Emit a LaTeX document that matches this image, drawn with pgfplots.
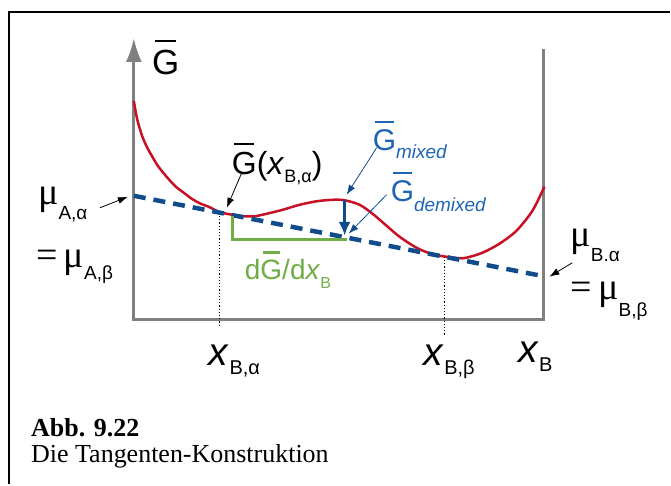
\documentclass[border=0pt]{standalone}
\usepackage{pgfplots}
\pgfplotsset{compat=1.18}
\usetikzlibrary{arrows.meta}
\usepackage{fontspec}
\setmainfont{Liberation Sans}
\newfontfamily\tms{Liberation Serif}
\definecolor{cred}{RGB}{200,16,36}
\definecolor{cdblue}{RGB}{16,76,140}
\definecolor{clblue}{RGB}{30,100,180}
\definecolor{cgreen}{RGB}{112,173,71}
\definecolor{cgray}{RGB}{128,128,128}
\newcommand\fs[1]{\fontsize{#1}{#1}\selectfont}
\newcommand\Gb{\leavevmode\hbox{\ooalign{G\cr\hidewidth\raisebox{0.93em}{\rule{0.62em}{0.08em}}\hidewidth\cr}}}
\begin{document}
\begin{tikzpicture}
\begin{axis}[width=671pt, height=485pt, scale only axis,
  xmin=0, xmax=671, ymin=0, ymax=485, hide axis, clip=false]
\path (axis cs:0,0) rectangle (axis cs:671,485);
% frame
\draw[line width=1.5pt, black] (axis cs:9,0) -- (axis cs:9,473) -- (axis cs:671,473);
% axes
\draw[cgray, line width=3pt, {Latex[length=24pt,width=16pt]}-] (axis cs:134,447) -- (axis cs:134,165) -- (axis cs:544,165) -- (axis cs:544,436);
% dotted guides
\addplot[black, line width=1.2pt, dotted] coordinates {(220,272) (220,157)};
\addplot[black, line width=1.2pt, dotted] coordinates {(445,228) (445,150)};
% curve
\addplot[cred, line width=2.5pt, smooth, tension=0.5] coordinates {
(134,384) (135.5,375) (137.5,365) (140,356) (143,347) (147,338) (152,329)
(158,319) (166,309) (175,299) (184,292) (192,286) (200,281.5) (210,277.5)
(220,272.5) (233,270) (245,268.5) (255,268.5) (267,271) (283,275) (300,280)
(317,283.5) (333,285) (345,284.5) (360,280) (373,271) (387,259) (400,248)
(417,237) (433,230.5) (450,227.5) (460,226.5) (467,227) (483,232) (500,241)
(517,254) (533,274) (545,298)};
% tangent
\addplot[cdblue, line width=4.5pt, dash pattern=on 12pt off 8pt] coordinates {(134,289) (544,208.5)};
% green slope triangle
\addplot[cgreen, line width=3pt] coordinates {(233,269) (233,245) (347,245)};
% thick blue arrow
\draw[cdblue, line width=3.5pt, -{Latex[length=14pt,width=12pt]}] (axis cs:345,285) -- (axis cs:345,249);
% thin arrows
\draw[black, line width=0.8pt, -{Latex[length=10pt,width=7pt]}] (axis cs:242,312) -- (axis cs:227,277);
\draw[cdblue, line width=0.8pt, -{Latex[length=10pt,width=7pt]}] (axis cs:377,337) -- (axis cs:347,290);
\draw[cdblue, line width=0.8pt, -{Latex[length=10pt,width=7pt]}] (axis cs:387,290) -- (axis cs:349,251);
\draw[black, line width=0.8pt, -{Latex[length=10pt,width=7pt]}] (axis cs:100,277) -- (axis cs:128,288);
\draw[black, line width=0.8pt, -{Latex[length=10pt,width=7pt]}] (axis cs:573,222) -- (axis cs:550,208);
% labels
\node[anchor=base west, inner sep=0pt] at (axis cs:152,410) {\fs{35}\Gb};
\node[anchor=base west, inner sep=0pt] at (axis cs:232,310) {\fs{32}\Gb(\textit{x}\raisebox{-8pt}{\fs{18}B,α})};
\node[anchor=base west, inner sep=0pt, text=clblue] at (axis cs:373,334) {\fs{30}\Gb\raisebox{-8pt}{\fs{19}\itshape mixed}};
\node[anchor=base west, inner sep=0pt, text=clblue] at (axis cs:391,283) {\fs{30}\Gb\raisebox{-10pt}{\fs{19}\itshape demixed}};
\node[anchor=base west, inner sep=0pt, text=cgreen] at (axis cs:245,205) {\fs{28}d\Gb/d\textit{x}\raisebox{-9pt}{\fs{16}B}};
\node[anchor=base west, inner sep=0pt] at (axis cs:38,280) {\fs{38}\tms μ\raisebox{-15pt}{\fs{19}\rmfamily A,α}};
\node[anchor=base west, inner sep=0pt] at (axis cs:36,217) {\fs{38}\tms =\,μ\raisebox{-12pt}{\fs{19}\rmfamily A,β}};
\node[anchor=base west, inner sep=0pt] at (axis cs:571,238) {\fs{38}\tms μ\raisebox{-15pt}{\fs{19}\rmfamily B.α}};
\node[anchor=base west, inner sep=0pt] at (axis cs:571,185) {\fs{38}\tms =\,μ\raisebox{-17pt}{\fs{19}\rmfamily B,β}};
\node[anchor=base west, inner sep=0pt] at (axis cs:209,119) {\fs{39}\textit{x}\raisebox{-9pt}{\fs{20}B,α}};
\node[anchor=base west, inner sep=0pt] at (axis cs:424,119) {\fs{39}\textit{x}\raisebox{-9pt}{\fs{20}B,β}};
\node[anchor=base west, inner sep=0pt] at (axis cs:519,122) {\fs{39}\textit{x}\raisebox{-9pt}{\fs{20}B}};
\node[anchor=base west, inner sep=0pt] at (axis cs:31,48) {\fs{26}\tms\bfseries Abb. 9.22};
\node[anchor=base west, inner sep=0pt] at (axis cs:31,22) {\fs{26}\tms Die Tangenten-Konstruktion};
\end{axis}
\end{tikzpicture}
\end{document}
